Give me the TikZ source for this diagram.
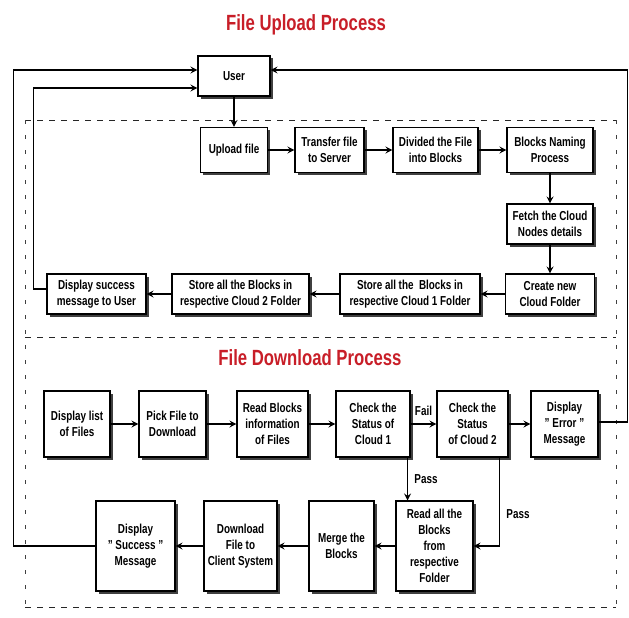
\documentclass[tikz,border=0pt]{standalone}
\usepackage{fontspec}
\setmainfont{Liberation Sans}[FakeStretch=0.76]
\usepackage{tikz}
\usetikzlibrary{arrows.meta,positioning,shadows}
\definecolor{titlered}{RGB}{200,30,40}

\begin{document}
\begin{tikzpicture}[x=1pt,y=-1pt,line width=1.1pt,on grid,auto,
  >={Stealth[length=7pt,width=7pt,inset=2.5pt]},
  font=\bfseries\fontsize{13}{16}\selectfont]
  \tikzstyle{block}=[draw,fill=white,align=center,inner sep=2pt,minimum height=40pt,
    drop shadow={shadow xshift=2.5pt,shadow yshift=-2.5pt,fill=black!75,opacity=1}]
  \tikzstyle{hdash}=[line width=1pt,black!85,dash pattern=on 6pt off 6pt]
  \tikzstyle{vdash}=[line width=0.8pt,black!75,dash pattern=on 4pt off 11pt]
  \tikzstyle{heading}=[text=titlered,font=\bfseries\fontsize{22}{24}\selectfont]

  \useasboundingbox (0,0) rectangle (629,618);

  % dashed frames
  \draw[hdash] (25,120) -- (616,120);
  \draw[hdash] (25,337) -- (616,337);
  \draw[hdash] (25,607) -- (616,607);
  \draw[vdash] (25,120) -- (25,607);
  \draw[vdash] (616,120) -- (616,607);

  % upload
  \node[heading] (uptitle) at (306,25) {File Upload Process};
  \node[block,minimum width=72pt] (user) at (234,76) {User};
  \node[block,minimum width=67pt,minimum height=45pt] (upload) [below=74pt of user] {Upload file};
  \node[block,minimum width=69pt,minimum height=45pt] (transfer) [right=95.5pt of upload] {Transfer file\\to Server};
  \node[block,minimum width=85pt,minimum height=45pt] (divided) [right=106pt of transfer] {Divided the File\\into Blocks};
  \node[block,minimum width=86pt,minimum height=45pt] (naming) [right=114.5pt of divided] {Blocks Naming\\Process};
  \node[block,minimum width=86pt] (fetch) [below=74pt of naming] {Fetch the Cloud\\Nodes details};
  \node[block,minimum width=89pt] (create) [below=70pt of fetch] {Create new\\Cloud Folder};
  \node[block,minimum width=140pt] (store1) [left=140pt of create] {Store all the\ \ Blocks in\\respective Cloud 1 Folder};
  \node[block,minimum width=137pt] (store2) [left=169.5pt of store1] {Store all the Blocks in\\respective Cloud 2 Folder};
  \node[block,minimum width=99pt] (dispmsg) [left=144pt of store2] {Display success\\message to User};

  \path[->]
  (user) edge (upload)
  (upload) edge (transfer)
  (transfer) edge (divided)
  (divided) edge (naming)
  (naming) edge (fetch)
  (fetch) edge (create)
  (create) edge (store1)
  (store1) edge (store2)
  (store2) edge (dispmsg);

  % download
  \node[heading] (dltitle) at (310,358) {File Download Process};
  \node[block,minimum width=66pt,minimum height=66pt] (list) at (77,424) {Display list\\of Files};
  \node[block,minimum width=67pt,minimum height=66pt] (pick) [right=95.5pt of list] {Pick File to\\Download};
  \node[block,minimum width=71pt,minimum height=66pt] (readinfo) [right=100pt of pick] {Read Blocks\\information\\of Files};
  \node[block,minimum width=74pt,minimum height=66pt] (check1) [right=100.5pt of readinfo] {Check the\\Status of\\Cloud 1};
  \node[block,minimum width=71pt,minimum height=66pt] (check2) [right=99.5pt of check1] {Check the\\Status\\of Cloud 2};
  \node[block,minimum width=67pt,minimum height=66pt] (error) [right=92pt of check2] {Display\\" Error "\\Message};
  \node[block,minimum width=77pt,minimum height=90pt] (readall) [below right=122pt and 61.5pt of check1] {Read all the\\Blocks\\from\\respective\\Folder};
  \node[block,minimum width=65pt,minimum height=90pt] (merge) [left=93pt of readall] {Merge the\\Blocks};
  \node[block,minimum width=73pt,minimum height=90pt] (download) [left=101pt of merge] {Download\\File to\\Client System};
  \node[block,minimum width=79pt,minimum height=90pt] (success) [left=105pt of download] {Display\\" Success "\\Message};

  \path[->]
  (list) edge (pick)
  (pick) edge (readinfo)
  (readinfo) edge (check1)
  (check1) edge node[inner sep=8pt] {Fail} (check2)
  (check2) edge (error)
  (readall) edge (merge)
  (merge) edge (download)
  (download) edge (success);

  \draw[->] ([xshift=-3pt]check1.south east) -- ([xshift=-3pt]check1.south east |- readall.north)
    node[midway,right,xshift=3pt] {Pass};
  \draw[->] ([xshift=-9pt]check2.south east) |- (readall.east)
    node[pos=0.32,right,xshift=3pt] {Pass};

  % back to the user
  \draw[->] ([yshift=5pt]dispmsg.west) -- ++(-13,0) |- ([yshift=-12pt]user.west);
  \draw[->] (success.west) -- ++(-82,0) |- ([yshift=6pt]user.west);
  \draw[->] ([yshift=2pt]error.east) -- ++(29,0) |- ([yshift=6pt]user.east);
\end{tikzpicture}
\end{document}
